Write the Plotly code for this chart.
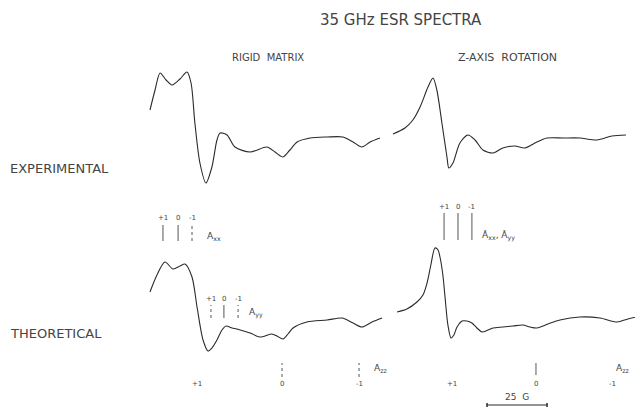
import plotly.graph_objects as go

OFF = 8                 # the page body margin shifts the figure by this many pixels
W, H = 643 - OFF, 420 - 2 * OFF

# ---------------- data (field in gauss from the central M=0 line, signal arbitrary units) -------------
rigid_exp_field = [-55.0, -52.9, -50.8, -48.3, -45.8, -42.5, -39.6, -37.9, -36.3, -34.2, -31.7, -29.2, -27.1,
                   -25.8, -22.9, -19.6, -13.3, -6.3, -2.9, 0.4, 3.3, 6.3, 11.7, 18.8, 25.4, 29.6, 33.3, 36.7, 40.8]
rigid_exp_signal = [30, 50, 67, 60, 55, 61, 68, 57, 17, -23, -43, -27, 0,
                    7, 5, -7, -12, -7, -12, -17, -10, -2, 2, 3, 3, -2, -7, -2, 2]

zrot_exp_field = [-59.6, -54.6, -51.3, -48.3, -45.0, -42.9, -41.3, -39.2, -37.1, -36.3, -34.6, -31.7, -28.3,
                  -25.4, -22.1, -17.9, -13.8, -8.8, -4.6, 0.4, 4.6, 11.3, 18.3, 25.4, 31.7, 37.5]
zrot_exp_signal = [6, 12, 20, 33, 53, 62, 50, 17, -17, -28, -23, -3, 5,
                   0, -10, -13, -8, -6, -8, -2, 2, 2, 2, 0, 4, 5]

rigid_th_field = [-55.0, -52.1, -48.8, -45.4, -42.5, -40.4, -37.5, -35.4, -32.9, -30.8, -29.2, -27.1, -25.0,
                  -23.3, -20.8, -18.8, -13.3, -9.2, -4.2, -2.1, 0.4, 2.5, 4.6, 10.4, 18.8, 25.0, 29.6, 33.3,
                  37.5, 41.7]
rigid_th_signal = [33, 50, 63, 56, 59, 61, 48, 18, -15, -26, -23, -15, -5,
                   -1, -3, -4, -8, -12, -9, -11, -14, -9, -3, 3, 5, 7, 2, -2,
                   3, 7]

zrot_th_field = [-57.9, -53.8, -49.6, -47.1, -45.4, -43.8, -42.1, -40.8, -40.0, -38.8, -37.9, -36.7, -35.4,
                 -34.2, -32.9, -30.8, -28.8, -26.7, -24.6, -22.5, -20.0, -17.9, -13.8, -9.6, -5.4, -2.5, 0.4,
                 5.0, 10.0, 18.3, 26.7, 33.8, 38.3, 43.3]
zrot_th_signal = [13, 16, 23, 30, 42, 60, 77, 75, 68, 50, 28, 0, -13,
                  -10, -2, 4, 4, 2, -3, -7, -5, -3, -2, -1, 0, -2, -3,
                  1, 5, 8, 7, 3, 6, 9]

# hyperfine stick diagrams
mi_labels = ["+1", "0", "-1"]
axx_field = [-49.6, -43.3, -37.5]
ayy_field = [-29.6, -24.2, -18.3]
azz_field = [-35.4, 0.0, 32.1]
azz_rot_field = [-35.0, 0.0, 32.0]
axy_rot_field = [-38.3, -32.5, -26.7]
scale_gauss = 25

LINE = "#2a2a2a"
TXT = "#444444"
FONT = "DejaVu Sans"

fig = go.Figure()

def curve(x, y, xa, ya):
    fig.add_trace(go.Scatter(x=x, y=y, xaxis=xa, yaxis=ya, mode="lines",
                             line=dict(color=LINE, width=1.1, shape="spline", smoothing=0.8),
                             hoverinfo="skip", showlegend=False))

curve(rigid_exp_field, rigid_exp_signal, "x", "y")
curve(zrot_exp_field, zrot_exp_signal, "x2", "y")
curve(rigid_th_field, rigid_th_signal, "x", "y2")
curve(zrot_th_field, zrot_th_signal, "x2", "y2")

def sticks(fields, lo, hi, xa, ya, dash="solid", width=1.0, color="#555"):
    xs, ys = [], []
    for f in fields:
        xs += [f, f, None]
        ys += [lo, hi, None]
    fig.add_trace(go.Scatter(x=xs, y=ys, xaxis=xa, yaxis=ya, mode="lines",
                             line=dict(color=color, width=width, dash=dash),
                             hoverinfo="skip", showlegend=False))

def ann(text, x, y, xref, yref, size=8, xanchor="center"):
    fig.add_annotation(text=text, x=x, y=y, xref=xref, yref=yref, showarrow=False,
                       font=dict(family=FONT, size=size, color=TXT), xanchor=xanchor, yanchor="middle")

# A_xx sticks (rigid)
sticks(axx_field[:2], 84, 100, "x", "y2")
sticks(axx_field[2:], 84, 100, "x", "y2", dash="dot")
for f, t in zip(axx_field, mi_labels):
    ann(t, f, 107, "x", "y2", size=7)
ann("A<sub>xx</sub>", -32, 89, "x", "y2", size=9, xanchor="left")

# A_yy sticks (rigid)
sticks([ayy_field[0], ayy_field[2]], 7, 20, "x", "y2", dash="dot")
sticks([ayy_field[1]], 7, 20, "x", "y2")
for f, t in zip(ayy_field, mi_labels):
    ann(t, f, 26, "x", "y2", size=7)
ann("A<sub>yy</sub>", -14.5, 12, "x", "y2", size=9, xanchor="left")

# A_zz (rigid)
sticks(azz_field[1:], -52, -38, "x", "y2", dash="dot")
for f, t in zip(azz_field, mi_labels):
    ann(t, f, -59, "x", "y2", size=7)
ann("A<sub>zz</sub>", 37.5, -43, "x", "y2", size=9, xanchor="left")

# averaged A_xx, A_yy sticks (z-axis rotation)
sticks(axy_rot_field, 85, 112, "x2", "y2")
for f, t in zip(axy_rot_field, mi_labels):
    ann(t, f, 118, "x2", "y2", size=7)
ann("Ã<sub>xx</sub>, Ã<sub>yy</sub>", -23.5, 89, "x2", "y2", size=9, xanchor="left")

# A_zz (z-axis rotation)
sticks(azz_rot_field[1:2], -50, -38, "x2", "y2")
for f, t in zip(azz_rot_field, mi_labels):
    ann(t, f, -59, "x2", "y2", size=7)
ann("A<sub>zz</sub>", 39.5, -43, "x2", "y2", size=9, xanchor="right")

# scale bar
x0 = -20.4
fig.add_trace(go.Scatter(x=[x0, x0 + scale_gauss], y=[-80, -80], xaxis="x2", yaxis="y2", mode="lines",
                         line=dict(color=LINE, width=1.2), hoverinfo="skip", showlegend=False))
sticks([x0, x0 + scale_gauss], -82, -78, "x2", "y2", color=LINE, width=1.5)
ann("25  G", x0 + scale_gauss / 2, -72, "x2", "y2", size=9)

# titles and row labels (positions given in page pixels)
def ptext(text, px, py, size, xanchor="center"):
    fig.add_annotation(text=text, x=(px - OFF) / W, y=1 - (py - OFF) / H, xref="paper", yref="paper",
                       showarrow=False, font=dict(family=FONT, size=size, color=TXT),
                       xanchor=xanchor, yanchor="middle")

ptext("35 GHz ESR SPECTRA", 401, 20, 15)
ptext("RIGID  MATRIX", 268, 57, 10)
ptext("Z-AXIS  ROTATION", 507, 57, 11)
ptext("EXPERIMENTAL", 8, 168, 13, xanchor="left")
ptext("THEORETICAL", 8, 333, 13, xanchor="left")

def xd(a, b):
    return [(a - OFF) / W, (b - OFF) / W]

def yd(top, bottom):
    return [1 - (bottom - OFF) / H, 1 - (top - OFF) / H]

hidden = dict(visible=False, showgrid=False, zeroline=False, fixedrange=True)
fig.update_layout(
    width=W, height=H, margin=dict(l=0, r=0, t=0, b=0),
    paper_bgcolor="white", plot_bgcolor="white", showlegend=False,
    xaxis=dict(domain=xd(138, 390), range=[-60, 45], **hidden),
    xaxis2=dict(domain=xd(392, 643), range=[-60, 44.6], **hidden),
    yaxis=dict(domain=yd(40, 200), range=[-60, 100], **hidden),
    yaxis2=dict(domain=yd(200, 412), range=[-87, 125], **hidden),
)

fig.write_html("out.html", config={"displayModeBar": False})
